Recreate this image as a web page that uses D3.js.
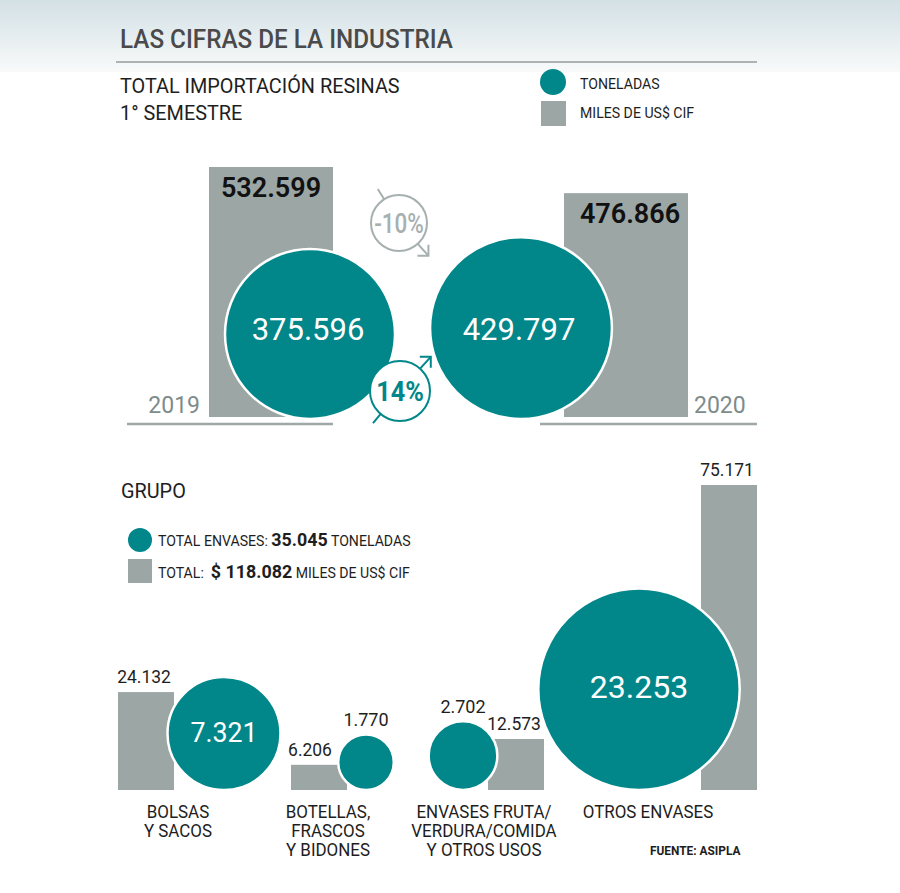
<!DOCTYPE html>
<html>
<head>
<meta charset="utf-8">
<script src="https://cdn.jsdelivr.net/npm/d3@7"></script>
<style>
  html, body { margin: 0; padding: 0; background: #fff; }
  svg { display: block; }
  text { font-family: Roboto, "Noto Sans", sans-serif; }
</style>
</head>
<body>
<div id="chart"></div>
<script>
// --- data ---
var years = ["2019", "2020"];
var usdTop = [532599, 476866];     // miles de US$ CIF
var tonsTop = [375596, 429797];    // toneladas

var groups = [["BOLSAS", "Y SACOS"],
              ["BOTELLAS,", "FRASCOS", "Y BIDONES"],
              ["ENVASES FRUTA/", "VERDURA/COMIDA", "Y OTROS USOS"],
              ["OTROS ENVASES"]];
var groupTons = [7321, 1770, 2702, 23253];
var groupUsd = [24132, 6206, 12573, 75171];
var totalTons = 35045;
var totalUsd = 118082;

// --- layout (not data) ---
var teal = "#01878a", grey = "#9ba6a5", lineGrey = "#9fa8a8";
var W = 900, H = 893;
var topLayout = [{bar: 209, cx: 310, line: [127, 333], yearX: 200, anchor: "end"},
                 {bar: 564, cx: 521, line: [540, 757], yearX: 694, anchor: "start"}];
var botLayout = [{bar: 118, cx: 224, lab: 178},
                 {bar: 291, cx: 366, lab: 328},
                 {bar: 488, cx: 463, lab: 484},
                 {bar: 701, cx: 639, lab: 648}];

var loc = d3.formatLocale({decimal: ",", thousands: ".", grouping: [3], currency: ["$", ""]});
var fmt = loc.format(",d");

var svg = d3.select("#chart").append("svg")
    .attr("width", W).attr("height", H);

// squeeze text horizontally to get the condensed look of the original
function squeeze(sel, k) {
    sel.each(function() {
        var L = this.getComputedTextLength();
        d3.select(this).attr("textLength", L * k).attr("lengthAdjust", "spacingAndGlyphs");
    });
    return sel;
}

// background wash at the top
var defs = svg.append("defs");
var grad = defs.append("linearGradient").attr("id", "wash")
    .attr("x1", 0).attr("y1", 0).attr("x2", 0).attr("y2", 1);
grad.append("stop").attr("offset", "0%").attr("stop-color", "#d3e0e5");
grad.append("stop").attr("offset", "100%").attr("stop-color", "#f8fafa");
svg.append("rect").attr("width", W).attr("height", 72).attr("fill", "url(#wash)");

// header
squeeze(svg.append("text").attr("x", 120).attr("y", 48)
    .attr("font-size", 25).attr("font-weight", 500).attr("fill", "#4a4a4a")
    .text("LAS CIFRAS DE LA INDUSTRIA"), 0.97);
svg.append("line").attr("x1", 116).attr("x2", 757).attr("y1", 62).attr("y2", 62)
    .attr("stroke", "#9a9a9a").attr("stroke-width", 1.5);
squeeze(svg.append("text").attr("x", 120).attr("y", 93)
    .attr("font-size", 21).attr("fill", "#1e1e1e").text("TOTAL IMPORTACIÓN RESINAS"), 0.945);
squeeze(svg.append("text").attr("x", 120).attr("y", 120)
    .attr("font-size", 21).attr("fill", "#1e1e1e").text("1° SEMESTRE"), 0.945);

// legend top
svg.append("circle").attr("cx", 553).attr("cy", 82).attr("r", 13).attr("fill", teal);
svg.append("rect").attr("x", 541).attr("y", 101).attr("width", 25).attr("height", 25).attr("fill", grey);
squeeze(svg.append("text").attr("x", 580).attr("y", 89).attr("font-size", 15).attr("fill", "#1e1e1e").text("TONELADAS"), 0.94);
squeeze(svg.append("text").attr("x", 580).attr("y", 118).attr("font-size", 15).attr("fill", "#1e1e1e").text("MILES DE US$ CIF"), 0.94);

// --- top chart ---
var baseTop = 417;
var yTop = d3.scaleLinear().domain([0, d3.max(usdTop)]).range([baseTop, 167]);
var rTop = d3.scaleSqrt().domain([0, tonsTop[0]]).range([0, 85]);
var barW = 124;

var topG = svg.append("g");
years.forEach(function(yr, i) {
    var L = topLayout[i];
    topG.append("line").attr("x1", L.line[0]).attr("x2", L.line[1])
        .attr("y1", 424).attr("y2", 424).attr("stroke", lineGrey).attr("stroke-width", 2.5);
    topG.append("rect").attr("x", L.bar).attr("y", yTop(usdTop[i]))
        .attr("width", barW).attr("height", baseTop - yTop(usdTop[i])).attr("fill", grey);
    squeeze(topG.append("text").attr("x", L.bar + barW / 2 + (i ? 4 : 0)).attr("y", yTop(usdTop[i]) + 30)
        .attr("text-anchor", "middle").attr("font-size", 27).attr("font-weight", 600).attr("fill", "#111")
        .text(fmt(usdTop[i])), 1.0);
    squeeze(topG.append("text").attr("x", L.yearX).attr("y", 413).attr("text-anchor", L.anchor)
        .attr("font-size", 23).attr("fill", "#7e8b8b").text(yr), 1.0);
});
years.forEach(function(yr, i) {
    var L = topLayout[i], r = rTop(tonsTop[i]);
    topG.append("circle").attr("cx", L.cx).attr("cy", 419 - r).attr("r", r)
        .attr("fill", teal).attr("stroke", "#fff").attr("stroke-width", 2.5);
    squeeze(topG.append("text").attr("x", L.cx - 2).attr("y", 340).attr("text-anchor", "middle")
        .attr("font-size", 31).attr("fill", "#fff").text(fmt(tonsTop[i])), 1.0);
});

// change badges
function badge(cx, cy, r, col, label, bold, tailAng, headAng, k) {
    var g = svg.append("g");
    var rad = Math.PI / 180;
    // tail
    var t0 = [cx + r * Math.cos(tailAng * rad), cy + r * Math.sin(tailAng * rad)];
    var t1 = [cx + (r + 12) * Math.cos(tailAng * rad), cy + (r + 12) * Math.sin(tailAng * rad)];
    g.append("line").attr("x1", t0[0]).attr("y1", t0[1]).attr("x2", t1[0]).attr("y2", t1[1])
        .attr("stroke", col).attr("stroke-width", 2);
    // head
    var h0 = [cx + r * Math.cos(headAng * rad), cy + r * Math.sin(headAng * rad)];
    var h1 = [cx + (r + 16) * Math.cos(headAng * rad), cy + (r + 16) * Math.sin(headAng * rad)];
    var sx = Math.sign(h1[0] - cx), sy = Math.sign(h1[1] - cy);
    g.append("line").attr("x1", h0[0]).attr("y1", h0[1]).attr("x2", h1[0]).attr("y2", h1[1])
        .attr("stroke", col).attr("stroke-width", 2);
    g.append("path")
        .attr("d", "M" + (h1[0] - sx * 11) + "," + h1[1] + "L" + h1[0] + "," + h1[1] + "L" + h1[0] + "," + (h1[1] - sy * 11))
        .attr("fill", "none").attr("stroke", col).attr("stroke-width", 2);
    g.append("circle").attr("cx", cx).attr("cy", cy).attr("r", r)
        .attr("fill", "#fff").attr("stroke", col).attr("stroke-width", 2);
    var t = g.append("text").attr("x", cx).attr("y", cy + 10).attr("text-anchor", "middle")
        .attr("fill", col).attr("font-size", 28).attr("font-weight", bold ? 700 : 500)
        .text(label + "%");
    squeeze(t, k);
}
var chUsd = Math.round((usdTop[1] / usdTop[0] - 1) * 100);
var chTons = Math.round((tonsTop[1] / tonsTop[0] - 1) * 100);
badge(399, 223, 28, "#a7b0b0", (chUsd < 0 ? "-" : "") + Math.abs(chUsd), false, -122, 48, 0.8);
badge(400, 391, 30, teal, String(chTons), true, 130, -48, 0.9);

// --- bottom chart ---
squeeze(svg.append("text").attr("x", 121).attr("y", 498).attr("font-size", 21).attr("fill", "#1e1e1e").text("GRUPO"), 0.945);

svg.append("circle").attr("cx", 140).attr("cy", 540).attr("r", 12).attr("fill", teal);
svg.append("rect").attr("x", 128).attr("y", 559).attr("width", 24).attr("height", 24).attr("fill", grey);
var lg1 = svg.append("text").attr("x", 158).attr("y", 546).attr("font-size", 15).attr("fill", "#1e1e1e");
lg1.append("tspan").text("TOTAL ENVASES: ");
lg1.append("tspan").attr("font-size", 19).attr("font-weight", 700).text(fmt(totalTons));
lg1.append("tspan").text(" TONELADAS");
squeeze(lg1, 0.94);
var lg2 = svg.append("text").attr("x", 158).attr("y", 578).attr("font-size", 15).attr("fill", "#1e1e1e");
lg2.append("tspan").text("TOTAL:\u00a0\u00a0");
lg2.append("tspan").attr("font-size", 19).attr("font-weight", 700).text("$ " + fmt(totalUsd));
lg2.append("tspan").text(" MILES DE US$ CIF");
squeeze(lg2, 0.94);

var baseBot = 790;
var yBot = d3.scaleLinear().domain([0, d3.max(groupUsd)]).range([baseBot, 485]);
var rBot = d3.scaleSqrt().domain([0, groupTons[0]]).range([0, 56.5]);
var bw = 56;

var bot = svg.append("g");
bot.selectAll(".bar").data(groupUsd).enter().append("rect")
    .attr("class", "bar")
    .attr("x", function(d, i) { return botLayout[i].bar; })
    .attr("y", function(d) { return yBot(d); })
    .attr("width", bw)
    .attr("height", function(d) { return baseBot - yBot(d); })
    .attr("fill", grey);
squeeze(bot.selectAll(".barlab").data(groupUsd).enter().append("text")
    .attr("class", "barlab")
    .attr("x", function(d, i) { return botLayout[i].bar + bw / 2 - (i === 1 ? 9 : 2); })
    .attr("y", function(d) { return yBot(d) - 9; })
    .attr("text-anchor", "middle").attr("font-size", 18).attr("fill", "#1e1e1e")
    .text(function(d) { return fmt(d); }), 0.97);

bot.selectAll(".bub").data(groupTons).enter().append("circle")
    .attr("class", "bub")
    .attr("cx", function(d, i) { return botLayout[i].cx; })
    .attr("cy", function(d) { return baseBot - rBot(d); })
    .attr("r", function(d) { return rBot(d); })
    .attr("fill", teal).attr("stroke", "#fff").attr("stroke-width", 2.5);
squeeze(bot.selectAll(".bublab").data(groupTons).enter().append("text")
    .attr("class", "bublab")
    .attr("x", function(d, i) { return botLayout[i].cx; })
    .attr("y", function(d) {
        var r = rBot(d);
        return r > 45 ? baseBot - r + (8 + r * 0.01) : baseBot - 2 * r - 8;
    })
    .attr("text-anchor", "middle")
    .attr("font-size", function(d) { var r = rBot(d); return r > 45 ? 20 + r * 0.12 : 18; })
    .attr("fill", function(d) { return rBot(d) > 45 ? "#fff" : "#1e1e1e"; })
    .text(function(d) { return fmt(d); }), 1.0);

// category labels
groups.forEach(function(lines, i) {
    var t = bot.append("text").attr("x", botLayout[i].lab).attr("y", 818)
        .attr("text-anchor", "middle").attr("font-size", 18).attr("fill", "#1e1e1e");
    lines.forEach(function(s, j) {
        t.append("tspan").attr("x", botLayout[i].lab).attr("y", 818 + j * 19).text(s);
    });
    t.selectAll("tspan").each(function() {
        var L = this.getComputedTextLength();
        d3.select(this).attr("textLength", L * 0.94).attr("lengthAdjust", "spacingAndGlyphs");
    });
});

squeeze(svg.append("text").attr("x", 650).attr("y", 855).attr("font-size", 12.5).attr("font-weight", 700)
    .attr("fill", "#1e1e1e").text("FUENTE: ASIPLA"), 0.95);
</script>
</body>
</html>
